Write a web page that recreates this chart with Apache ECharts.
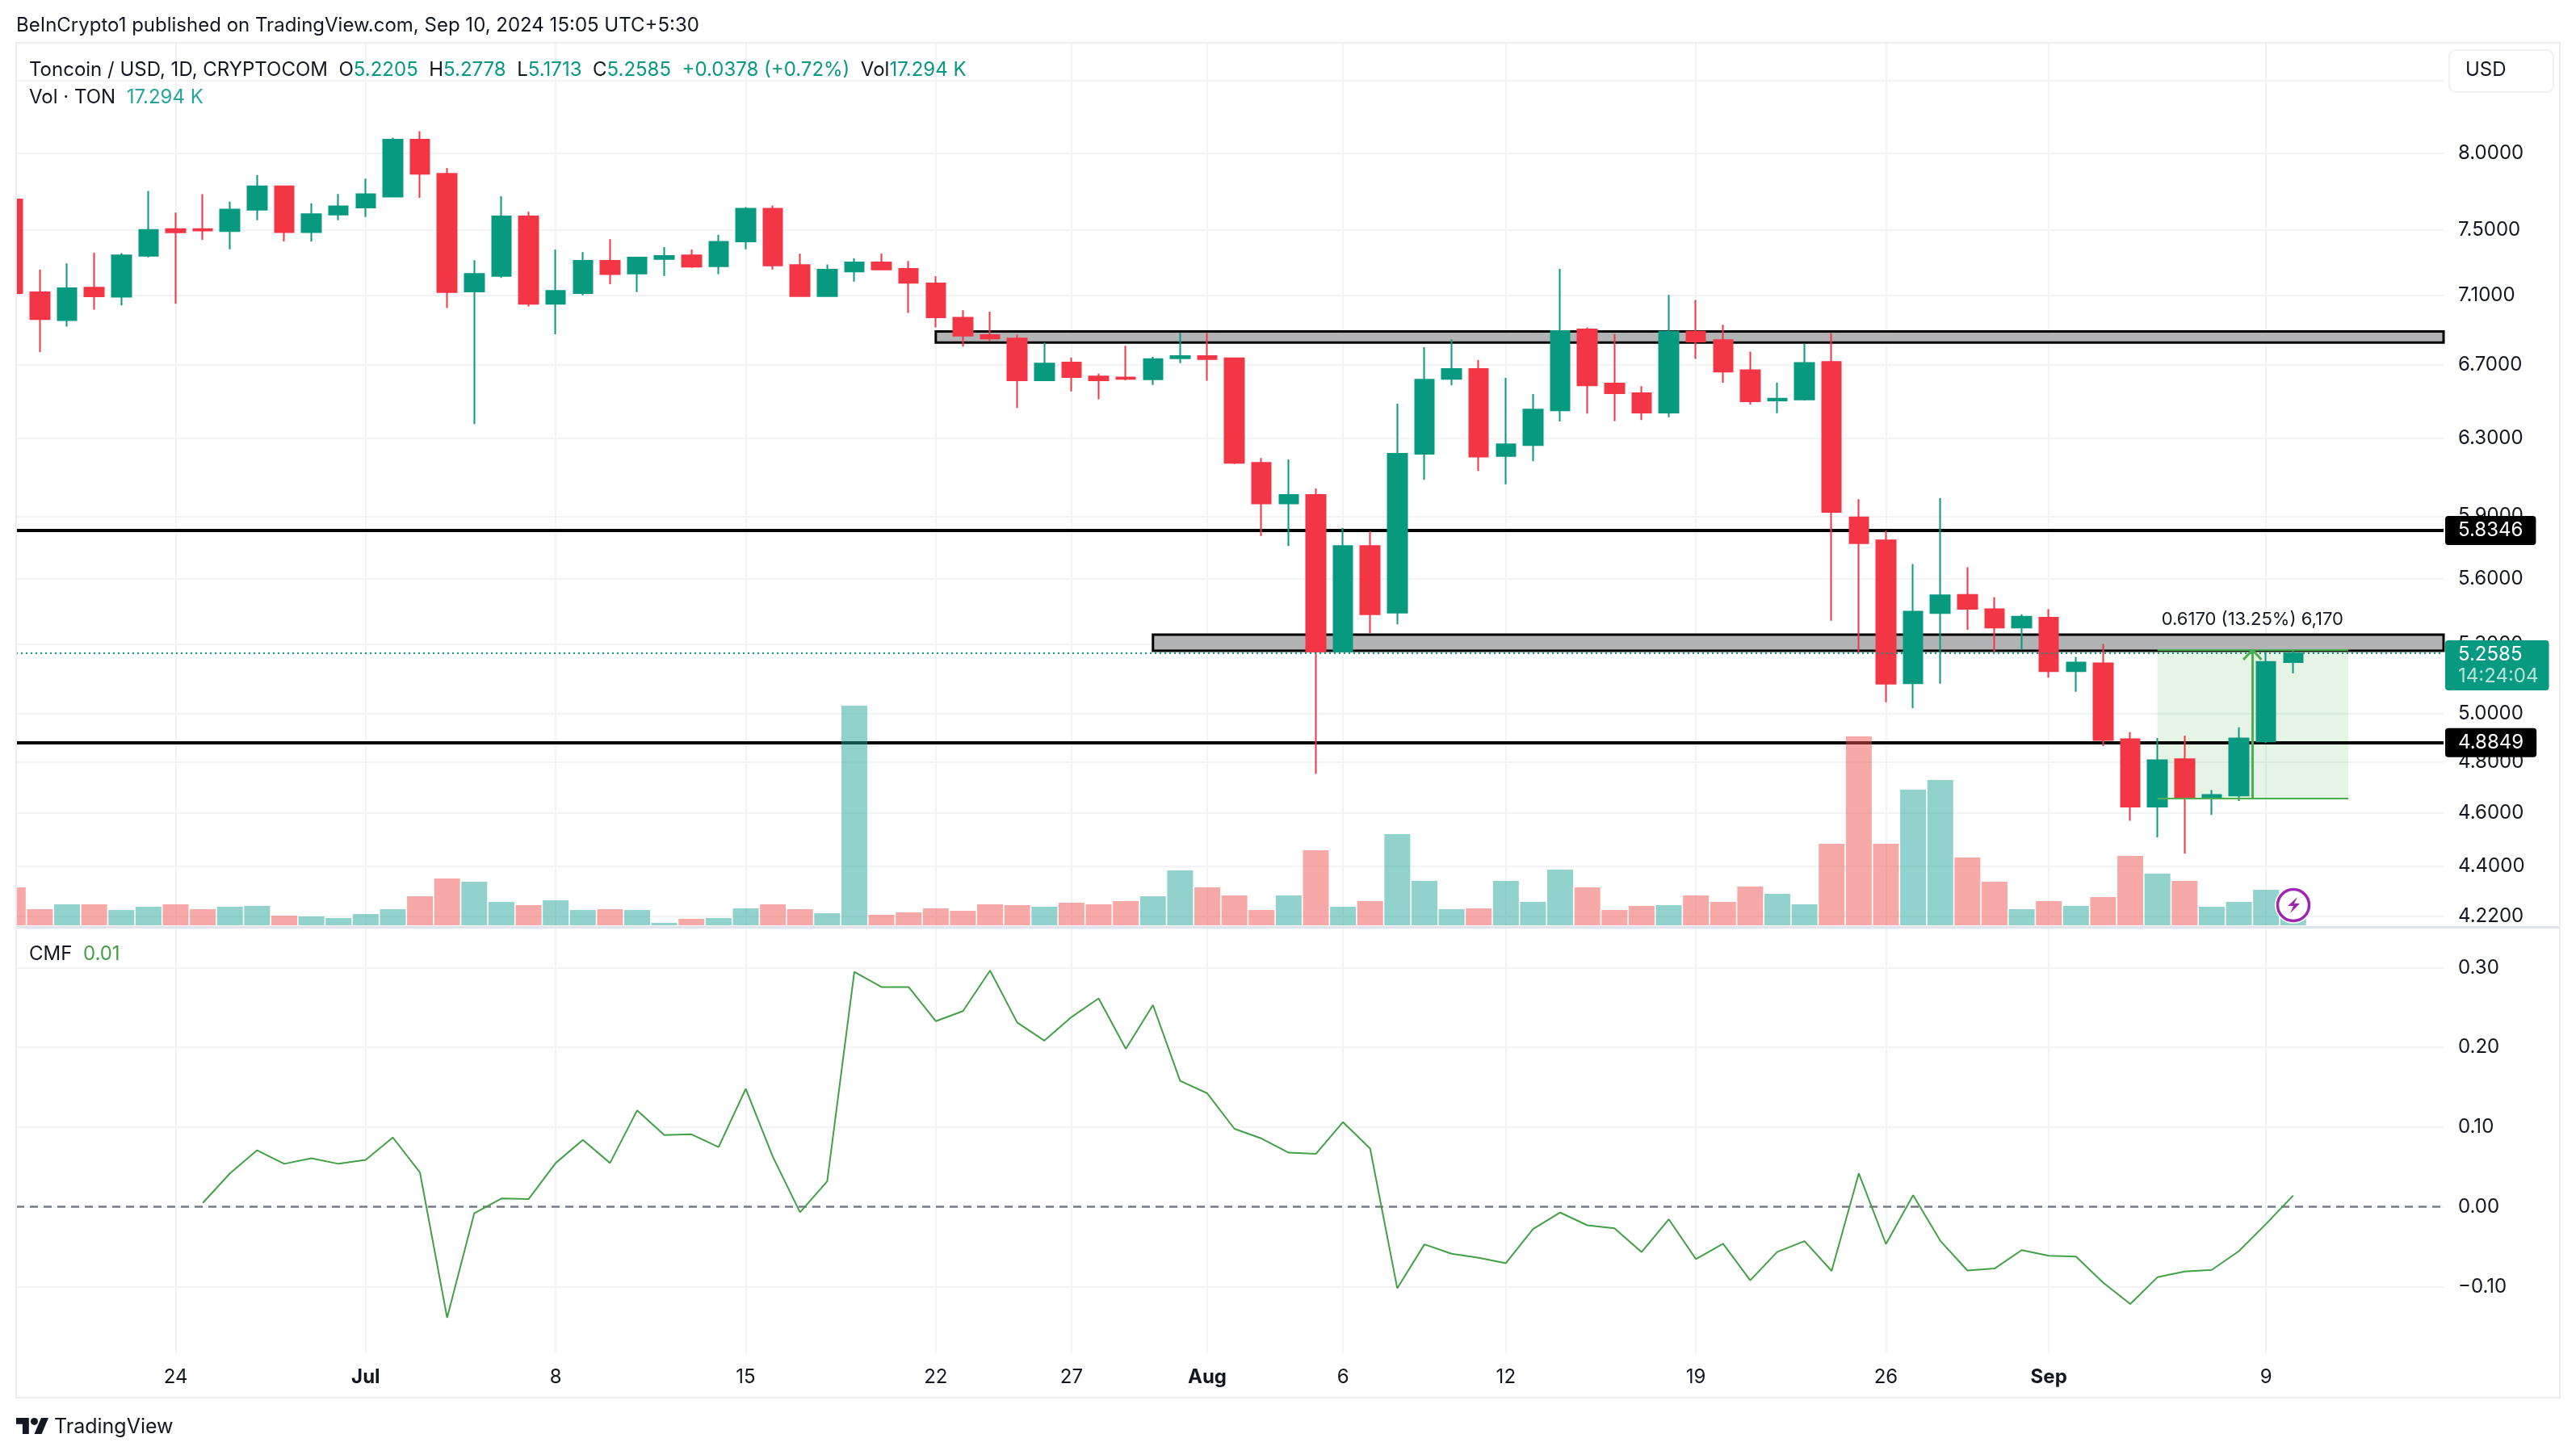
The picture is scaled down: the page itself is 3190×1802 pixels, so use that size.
<!DOCTYPE html>
<html lang="en">
<head>
<meta charset="UTF-8">
<title>Toncoin / USD</title>
<script src="https://cdn.jsdelivr.net/npm/echarts@6/dist/echarts.min.js"></script>
<style>
    html, body { margin: 0; padding: 0; background: #fff; }
    #main { width: 3190px; height: 1802px; }
</style>
</head>
<body>
<div id="main"></div>
<script>
// daily candles, Jun 18 to Sep 10 2024
var opens = [
    7.695,7.118,6.954,7.146,7.092,7.34,7.505,7.505,7.493,7.628,7.78,7.487,7.598,
    7.643,7.713,8.09,7.862,7.123,7.217,7.586,7.05,7.114,7.309,7.231,7.32,7.342,7.275,7.428,7.635,7.283,7.096,7.243,7.299,7.259,7.172,6.968,6.867,6.848,6.612,6.711,6.633,6.628,6.617,6.735,
    6.748,6.735,6.17,5.963,6.006,5.268,5.754,5.442,6.217,6.62,6.675,6.205,6.262,6.447,6.9,6.594,6.541,6.435,6.887,6.838,6.668,6.501,6.506,6.714,5.894,5.781,5.129,5.44,5.523,5.457,5.374,
    5.419,5.181,5.215,4.894,4.625,4.812,4.658,4.668,4.885,5.2205];
var highs = [
    7.72,7.254,7.293,7.358,7.356,7.75,7.61,7.728,7.68,7.854,7.78,7.67,7.73,
    7.83,8.103,8.147,7.9,7.313,7.715,7.616,7.378,7.362,7.442,7.332,7.393,7.378,7.47,7.645,7.655,7.352,7.287,7.325,7.353,7.307,7.214,7.012,7.003,6.87,6.824,6.738,6.649,6.806,6.743,6.88,
    6.88,6.735,6.195,6.187,6.038,5.842,5.826,6.483,6.798,6.843,6.725,6.625,6.536,7.259,6.912,6.873,6.579,7.103,7.073,6.927,6.773,6.6,6.817,6.879,5.985,5.829,5.668,5.991,5.653,5.513,5.434,
    5.457,5.244,5.301,4.923,4.899,4.908,4.689,4.943,5.265,5.2778];
var lows = [
    7.08,6.77,6.916,7.015,7.04,7.33,7.05,7.438,7.38,7.562,7.428,7.428,7.562,
    7.582,7.713,7.705,7.025,6.374,7.204,7.034,6.872,7.1,7.167,7.119,7.217,7.266,7.227,7.38,7.256,7.096,7.092,7.183,7.256,6.996,6.912,6.801,6.833,6.46,6.612,6.551,6.508,6.612,6.586,6.708,
    6.61,6.163,5.803,5.754,4.753,5.268,5.348,5.388,6.083,6.584,6.128,6.06,6.178,6.388,6.43,6.39,6.395,6.41,6.732,6.598,6.479,6.432,6.501,5.405,5.259,5.048,5.023,5.127,5.364,5.267,5.275,
    5.153,5.092,4.866,4.57,4.507,4.446,4.593,4.647,4.877,5.1713];
var closes = [
    7.114,6.96,7.142,7.094,7.342,7.5,7.485,7.497,7.63,7.78,7.487,7.6,7.651,
    7.728,8.09,7.862,7.119,7.229,7.586,7.05,7.127,7.309,7.227,7.328,7.338,7.273,7.426,7.635,7.28,7.096,7.254,7.299,7.256,7.175,6.971,6.864,6.848,6.612,6.706,6.63,6.612,6.62,6.73,6.748,
    6.73,6.17,5.963,6.006,5.268,5.754,5.434,6.217,6.615,6.675,6.202,6.267,6.452,6.891,6.584,6.541,6.435,6.887,6.83,6.66,6.496,6.511,6.709,5.921,5.768,5.127,5.446,5.521,5.459,5.374,5.423,
    5.181,5.219,4.89,4.625,4.808,4.658,4.67,4.897,5.221,5.2585];
// volume, thousands of TON
var volumes = [
    90.2,38.4,49.9,49.9,36.5,44.2,49.9,38.4,44.2,46.1,23,21.1,17.3,
    26.9,38.4,69.1,111.4,103.7,55.7,48,59.5,36.5,38.4,36.5,5.8,15.4,17.3,40.3,49.9,38.4,28.8,522.2,25,30.7,40.3,34.6,49.9,48,44.2,53.8,49.9,57.6,69.1,130.6,
    90.2,71,36.5,71,178.6,44.2,57.6,217,105.6,38.4,40.3,105.6,55.7,132.5,90.2,36.5,46.1,48,71,55.7,92.2,74.9,49.9,193.9,449.3,193.9,322.6,345.6,161.3,103.7,38.4,
    57.6,46.1,67.2,165.1,122.9,105.6,44.2,55.7,84.5,17.294];
// Chaikin money flow, starts Jun 25
var cmf = [
    null,null,null,null,null,null,null,.005,.042,.071,.054,.061,.054,
    .059,.087,.043,-.139,-.008,.0105,.0097,.055,.084,.055,.121,.09,.091,.075,.148,.0626,-.0067,.032,.2945,.2756,.2756,.2328,.2454,.2962,.2311,.2084,.238,.2613,.198,.253,.158,
    .1424,.0979,.0857,.068,.0664,.1063,.0731,-.1021,-.047,-.0588,-.0639,-.0706,-.0277,-.0071,-.0231,-.0269,-.0567,-.0155,-.0655,-.0462,-.092,-.0563,-.0429,-.0803,.042,-.0466,.0147,-.0424,-.0798,-.0773,-.0542,
    -.0613,-.0622,-.095,-.1218,-.0882,-.0811,-.079,-.0555,-.0214,.0143];

// ticks
var timeTickDays = [6, 13, 20, 27, 34, 39, 44, 49, 55, 62, 69, 75, 83];
var timeTickLabels = ['24', 'Jul', '8', '15', '22', '27', 'Aug', '6', '12', '19', '26', 'Sep', '9'];
var priceTicks = [8.5, 8, 7.5, 7.1, 6.7, 6.3, 5.9, 5.6, 5.3, 5, 4.8, 4.6, 4.4, 4.22];
var cmfTicks = [-0.1, 0, 0.1, 0.2, 0.3];

// drawn levels
var levelLines = [5.8346, 4.8849];
var lastPrice = 5.2585;
var upperZone = [34, 6.888, 6.824];
var lowerZone = [42, 5.342, 5.27];
var rangeBox = [79, 86.03, 4.658, 5.275];

var GREEN = '#089981', RED = '#F23645', INK = '#131722', GRID = '#f2f3f5';
var FONT = 'Inter';
var X_MIN = 0.125, X_MAX = 89.54;

var candleRows = opens.map(function (o, i) { return [i, o, closes[i], lows[i], highs[i]]; });
var volumeRows = volumes.map(function (v, i) {
    var up = closes[i] >= opens[i];
    return { value: [i, v], itemStyle: { color: up ? 'rgba(38,166,154,0.5)' : 'rgba(239,83,80,0.5)' } };
});
var closeRows = closes.map(function (c, i) { return [i, c]; });
var cmfRows = cmf.map(function (v, i) { return [i, v]; });

function timeAxis(gridIndex, labels) {
    return {
        type: 'value', gridIndex: gridIndex, min: X_MIN, max: X_MAX,
        axisLine: { show: false },
        axisTick: { show: false, customValues: timeTickDays },
        splitLine: { show: true, lineStyle: { color: GRID, width: 2 } },
        axisLabel: {
            show: labels, customValues: timeTickDays, margin: 18,
            fontFamily: FONT, fontSize: 24, color: INK,
            formatter: function (v) {
                var t = timeTickLabels[timeTickDays.indexOf(v)];
                return /[a-z]/.test(t) ? '{b|' + t + '}' : t;
            },
            rich: { b: { fontFamily: FONT, fontSize: 24, fontWeight: 'bold', color: INK } }
        }
    };
}

var rich = {
    d: { fontFamily: FONT, fontSize: 24, fontWeight: 'normal', color: INK },
    g: { fontFamily: FONT, fontSize: 24, fontWeight: 'normal', color: GREEN },
    v: { fontFamily: FONT, fontSize: 24, fontWeight: 'normal', color: '#26a69a' },
    c: { fontFamily: FONT, fontSize: 24, fontWeight: 'normal', color: '#43a047' }
};
function caption(text, left, top) {
    return { text: text, left: left, top: top, padding: 0, textStyle: { rich: rich, fontFamily: FONT, fontSize: 24, fontWeight: 'normal', color: INK } };
}

var option = {
    backgroundColor: '#fff',
    animation: false,
    title: [
        caption('{d|BeInCrypto1 published on TradingView.com, Sep 10, 2024 15:05 UTC+5:30}', 20, 20),
        caption('{d|Toncoin / USD, 1D, CRYPTOCOM}  {d|O}{g|5.2205}  {d|H}{g|5.2778}  {d|L}{g|5.1713}  {d|C}{g|5.2585}  {g|+0.0378 (+0.72%)}  {d|Vol}{g|17.294 K}', 36, 75),
        caption('{d|Vol · TON}  {v|17.294 K}', 36, 109),
        caption('{d|CMF}  {c|0.01}', 36, 1170),
        { text: 'TradingView', left: 67, top: 1755, padding: 0, textStyle: { fontFamily: FONT, fontSize: 25, fontWeight: 'normal', color: INK } }
    ],
    grid: [
        { left: 20, top: 54, width: 3006, height: 1094 },
        { left: 20, top: 1150, width: 3006, height: 526 }
    ],
    xAxis: [timeAxis(0, false), timeAxis(1, true)],
    yAxis: [
        {
            type: 'log', logBase: 10, gridIndex: 0, position: 'right', min: 4.181, max: 8.7686,
            axisLine: { show: false },
            axisTick: { show: false, customValues: priceTicks },
            splitLine: { show: true, lineStyle: { color: GRID, width: 2 } },
            axisLabel: {
                customValues: priceTicks, margin: 18, fontFamily: FONT, fontSize: 24, color: INK,
                padding: [4, 0, 0, 0],
                formatter: function (v) { return v.toFixed(4); }
            }
        },
        { type: 'value', gridIndex: 0, show: false, min: -3.84, max: 2096.6, splitLine: { show: false } },
        {
            type: 'value', gridIndex: 1, position: 'right', min: -0.1835, max: 0.3489,
            axisLine: { show: false },
            axisTick: { show: false, customValues: cmfTicks },
            splitLine: { show: true, lineStyle: { color: GRID, width: 2 } },
            axisLabel: {
                customValues: cmfTicks, margin: 18, fontFamily: FONT, fontSize: 24, color: INK,
                padding: [4, 0, 0, 0],
                formatter: function (v) { return (v < 0 ? '\u2212' + (-v).toFixed(2) : v.toFixed(2)); }
            }
        }
    ],
    series: [
        {
            name: 'Vol', type: 'bar', xAxisIndex: 0, yAxisIndex: 1, barWidth: 32, z: 3,
            data: volumeRows, silent: true, clip: true
        },
        {
            name: 'TONUSD', type: 'candlestick', xAxisIndex: 0, yAxisIndex: 0, barWidth: 24, z: 4,
            encode: { x: 0, y: [1, 2, 3, 4] },
            data: candleRows, silent: true, clip: true,
            itemStyle: { color: GREEN, color0: RED, borderColor: GREEN, borderColor0: RED, borderWidth: 2 },
            markArea: {
                silent: true, z: 1,
                data: [
                    [{ xAxis: upperZone[0], yAxis: upperZone[1], itemStyle: { color: '#b2b3b5', borderColor: '#000', borderWidth: 3 } },
                     { xAxis: X_MAX + 1, yAxis: upperZone[2] }],
                    [{ xAxis: lowerZone[0], yAxis: lowerZone[1], itemStyle: { color: '#b2b3b5', borderColor: '#000', borderWidth: 3 } },
                     { xAxis: X_MAX + 1, yAxis: lowerZone[2] }],
                    [{ xAxis: rangeBox[0], yAxis: rangeBox[3], itemStyle: { color: 'rgba(76,175,80,0.14)' } },
                     { xAxis: rangeBox[1], yAxis: rangeBox[2] }]
                ]
            },
            markLine: {
                silent: true, z: 2, symbol: 'none',
                lineStyle: { color: '#000', width: 4, type: 'solid' },
                data: levelLines.map(function (p) {
                    return {
                        yAxis: p,
                        label: {
                            show: true, position: 'end', distance: 2, formatter: p.toFixed(4),
                            backgroundColor: '#000', color: '#fff', fontFamily: FONT, fontSize: 24,
                            padding: [6, 16], borderRadius: 4
                        }
                    };
                })
            }
        },
        {
            // invisible close line, only carries the last price line and the range drawing
            name: 'Close', type: 'line', xAxisIndex: 0, yAxisIndex: 0, data: closeRows, symbol: 'none', silent: true, z: 5,
            lineStyle: { opacity: 0 },
            markLine: {
                silent: true, z: 5, symbol: 'none',
                data: [
                    {
                        yAxis: lastPrice,
                        lineStyle: { color: GREEN, width: 2, type: [2, 4] },
                        label: {
                            show: true, position: 'end', distance: 2, offset: [0, 15],
                            formatter: '{p|5.2585}\n{t|14:24:04}', backgroundColor: GREEN,
                            padding: [4, 13, 4, 16], borderRadius: 4,
                            rich: {
                                p: { fontFamily: FONT, fontSize: 24, color: '#fff', lineHeight: 27 },
                                t: { fontFamily: FONT, fontSize: 24, color: 'rgba(255,255,255,0.7)', lineHeight: 27 }
                            }
                        }
                    },
                    [{ coord: [rangeBox[0], rangeBox[3]], lineStyle: { color: '#4caf50', width: 2, type: 'solid' }, label: { show: false } }, { coord: [rangeBox[1], rangeBox[3]] }],
                    [{ coord: [rangeBox[0], rangeBox[2]], lineStyle: { color: '#4caf50', width: 2, type: 'solid' }, label: { show: false } }, { coord: [rangeBox[1], rangeBox[2]] }],
                    [{ coord: [82.5, rangeBox[2]], lineStyle: { color: '#4caf50', width: 3, type: 'solid' }, label: { show: false } }, { coord: [82.5, rangeBox[3]] }],
                    [{ coord: [82.17, 5.231], lineStyle: { color: '#4caf50', width: 3, type: 'solid' }, label: { show: false } }, { coord: [82.5, rangeBox[3]] }],
                    [{ coord: [82.83, 5.231], lineStyle: { color: '#4caf50', width: 3, type: 'solid' }, label: { show: false } }, { coord: [82.5, rangeBox[3]] }]
                ]
            },
            markPoint: {
                silent: true, symbol: 'circle', symbolSize: 0,
                data: [{
                    coord: [82.5, 5.41],
                    label: { show: true, position: 'inside', formatter: '0.6170 (13.25%) 6,170', color: INK, fontFamily: FONT, fontSize: 22 }
                }]
            }
        },
        {
            name: 'CMF', type: 'line', xAxisIndex: 1, yAxisIndex: 2, data: cmfRows, symbol: 'none', silent: true,
            connectNulls: false, lineStyle: { color: '#43a047', width: 2 }, z: 4,
            markLine: {
                silent: true, z: 2, symbol: 'none', label: { show: false },
                lineStyle: { color: '#787b86', width: 2.5, type: [10, 7] },
                data: [{ yAxis: 0 }]
            }
        }
    ],
    graphic: { elements: [
        // white strip left of the panes, the first candle is cut by the pane edge
        { type: 'rect', z: 10, silent: true, shape: { x: 0, y: 54, width: 19, height: 1094 }, style: { fill: '#fff' } },
        // frame around the panes
        { type: 'rect', z: 11, silent: true, shape: { x: 20, y: 53, width: 3150, height: 1678 }, style: { fill: 'none', stroke: '#eceef2', lineWidth: 2 } },
        { type: 'line', z: 6, silent: true, shape: { x1: 20, y1: 1148.5, x2: 3170, y2: 1148.5 }, style: { stroke: '#e0e3eb', lineWidth: 3 } },
        // currency button
        { type: 'rect', z: 20, silent: true, shape: { x: 3033, y: 62, width: 129, height: 52, r: 8 }, style: { fill: '#fff', stroke: '#eff1f4', lineWidth: 2 } },
        { type: 'text', z: 21, silent: true, x: 3053, y: 75, style: { text: 'USD', fill: INK, font: '24px Inter' } },
        // lightning badge on the last bar
        { type: 'circle', z: 20, silent: true, shape: { cx: 2840, cy: 1121, r: 23 }, style: { fill: '#fff' } },
        { type: 'circle', z: 21, silent: true, shape: { cx: 2840, cy: 1121, r: 19.5 }, style: { fill: '#fff', stroke: '#9c27b0', lineWidth: 3.5 } },
        { type: 'polygon', z: 22, silent: true, shape: { points: [[2845, 1111], [2833, 1122], [2840, 1122], [2836, 1131], [2848, 1119], [2841, 1119]] }, style: { fill: '#9c27b0' } },
        // TradingView mark
        { type: 'polygon', z: 20, silent: true, shape: { points: [[35.8, 1776], [27.9, 1776], [27.9, 1763.8], [20, 1763.8], [20, 1756], [35.8, 1756]] }, style: { fill: INK } },
        { type: 'polygon', z: 20, silent: true, shape: { points: [[51.6, 1776], [42.5, 1776], [51, 1756], [60, 1756]] }, style: { fill: INK } },
        { type: 'circle', z: 20, silent: true, shape: { cx: 42.5, cy: 1760.4, r: 4.5 }, style: { fill: INK } }
    ] }
};

var myChart = echarts.init(document.getElementById('main'));
myChart.setOption(option);
</script>
</body>
</html>
